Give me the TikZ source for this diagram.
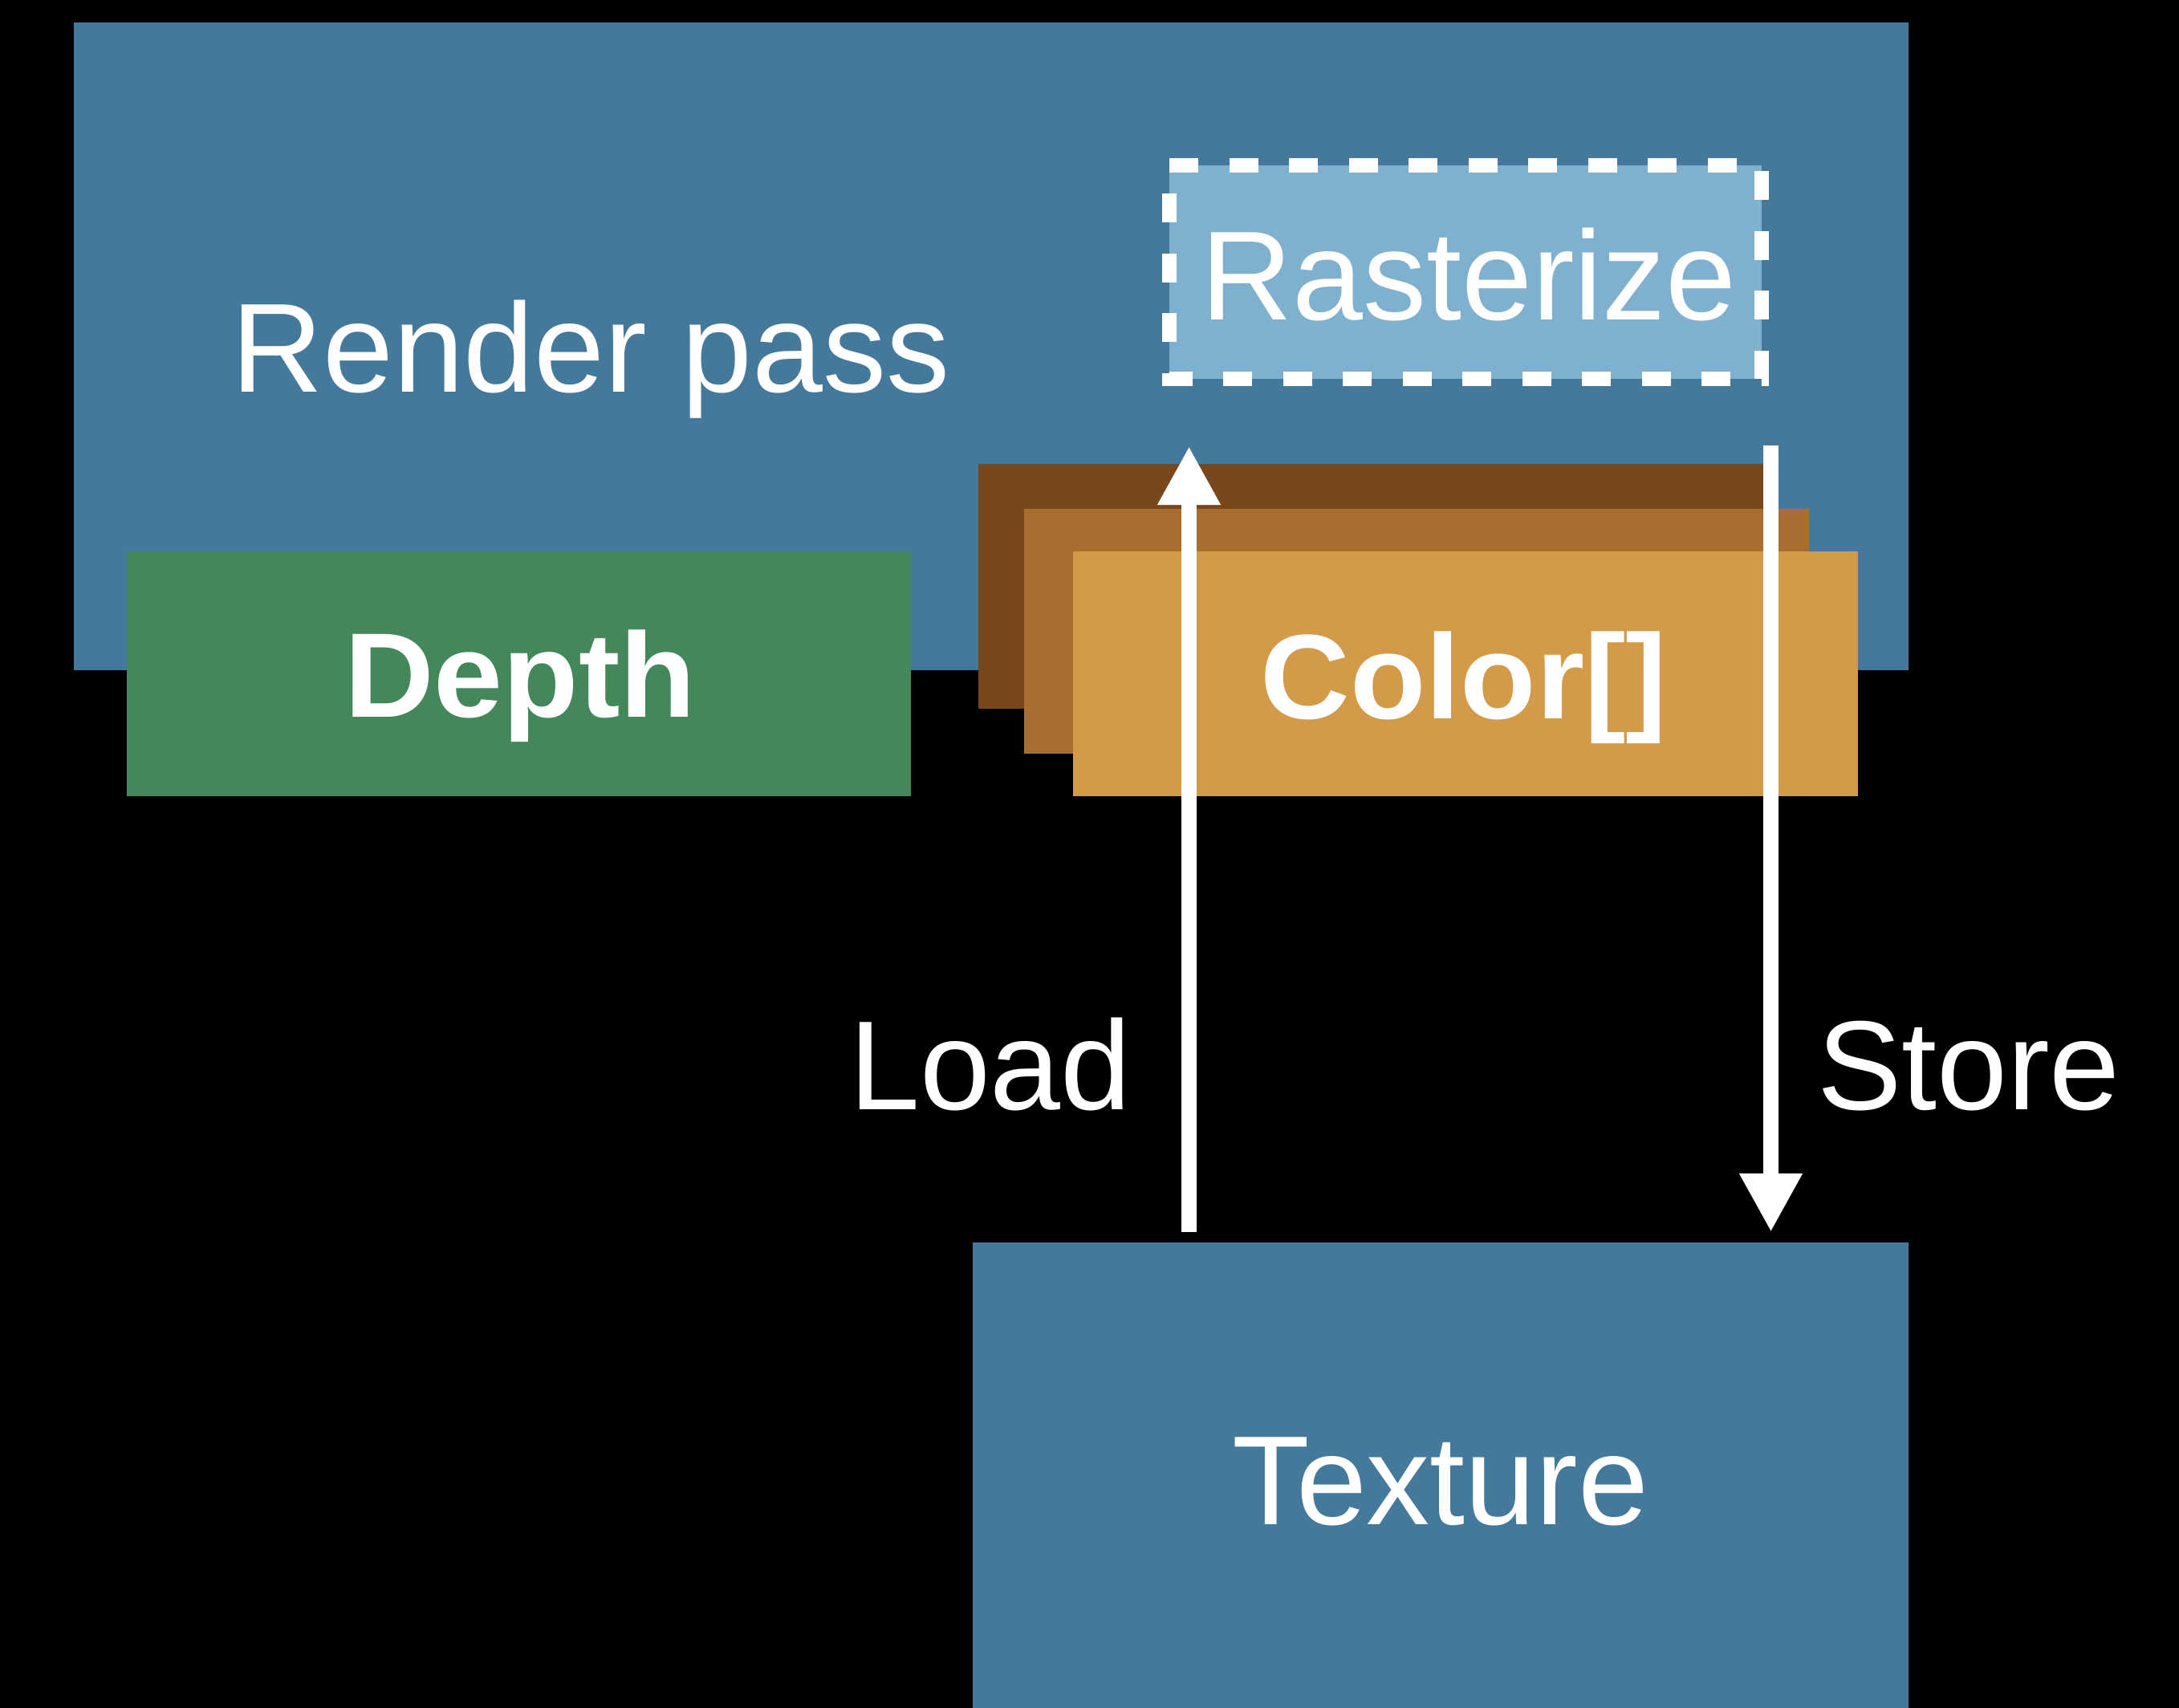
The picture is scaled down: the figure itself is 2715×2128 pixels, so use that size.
\documentclass[tikz,border=0pt]{standalone}
\usepackage{fontspec}
\setmainfont{Liberation Sans}
\usetikzlibrary{arrows.meta}
\definecolor{passblue}{HTML}{44799B}
\definecolor{rasterblue}{HTML}{7FB0D0}
\definecolor{depthgreen}{HTML}{43875A}
\definecolor{browndark}{HTML}{79471C}
\definecolor{brownmid}{HTML}{A76E2F}
\definecolor{brownlight}{HTML}{D39B49}
\begin{document}
\begin{tikzpicture}[x=1pt,y=-1pt,
  box/.style={anchor=north west, inner sep=0pt, outer sep=0pt, draw=none},
  lbl/.style={anchor=base, inner sep=0pt, outer sep=0pt, text=white, font=\fontsize{158}{190}\selectfont},
  blbl/.style={anchor=base, inner sep=0pt, outer sep=0pt, text=white, font=\fontsize{150}{180}\selectfont\bfseries},
  dashborder/.style={draw=white, line width=18pt, dash pattern=on 36pt off 38.5pt},
  flow/.style={draw=white, line width=18.5pt, -{Triangle[width=73.5pt,length=73pt]}}]
\useasboundingbox (0,0) rectangle (2715,2128);
\fill[black] (0,0) rectangle (2715,2128);

% render pass
\node[box, fill=passblue, minimum width=2286pt, minimum height=807pt] (pass) at (92,28) {};
% rasterize
\node[box, fill=rasterblue, minimum width=738pt, minimum height=266pt] (rast) at (1457,206) {};
\draw[dashborder] (rast.north west) -- (rast.north east) -- (rast.south east) -- (rast.south west) -- cycle;
% depth
\node[box, fill=depthgreen, minimum width=977pt, minimum height=305pt] (depth) at (158,687) {};
% color stack
\node[box, fill=browndark, minimum width=978pt, minimum height=305pt] (colA) at (1219,578) {};
\node[box, fill=brownmid, minimum width=978pt, minimum height=305pt] (colB) at (1276,634) {};
\node[box, fill=brownlight, minimum width=978pt, minimum height=305pt] (colC) at (1337,687) {};
% texture
\node[box, fill=passblue, minimum width=1166pt, minimum height=580pt] (tex) at (1212,1548) {};

% arrows
\coordinate (loadstart) at (1481.5,1535);
\coordinate (loadend) at (1481.5,556);
\coordinate (storestart) at (2206.5,555);
\coordinate (storeend) at (2206.5,1535);
\draw[flow] (loadstart) -- (loadend);
\draw[flow] (storestart) -- (storeend);

% labels
\node[lbl] (passlbl) at (736,488) {Render pass};
\node[lbl] (rastlbl) at (1830,398) {Rasterize};
\node[blbl] (depthlbl) at (648,893) {\scalebox{1.03}[1]{Depth}};
\node[blbl] (collbl) at (1824,895) {\scalebox{1.03}[1]{Color[]}};
\node[lbl] (loadlbl) at (1234,1382) {Load};
\node[lbl] (storelbl) at (2453,1382) {Store};
\node[lbl] (texlbl) at (1795,1899) {Texture};
\end{tikzpicture}
\end{document}
